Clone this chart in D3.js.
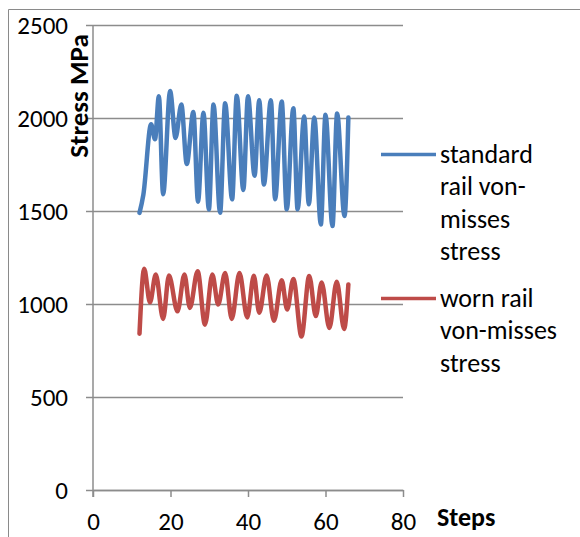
<!DOCTYPE html>
<html>
<head>
<meta charset="utf-8">
<script src="https://cdn.jsdelivr.net/npm/d3@7/dist/d3.min.js"></script>
<style>
  html, body { margin: 0; padding: 0; background: #fff; }
  svg { display: block; }
  text { font-family: Carlito, Calibri, Lato, "Open Sans", sans-serif; fill: #000; }
</style>
</head>
<body>
<div id="chart"></div>
<script>
// ---- data ----
const seriesNames = ["standard rail von-misses stress", "worn rail von-misses stress"];
const legendLines = [["standard", "rail von-", "misses", "stress"], ["worn rail", "von-misses", "stress"]];
const xTicks = [0, 20, 40, 60, 80];
const yTicks = [0, 500, 1000, 1500, 2000, 2500];

const stdSteps = [12, 13, 15, 16, 17, 18.1, 19.9, 21.3, 22.8, 24.2, 25.9, 27.1, 28.5, 29.9, 31.1, 32.8, 34.1, 35.9, 37.1, 38.8, 40, 41.7, 42.9, 44.1, 45.9, 47, 48.7, 50, 51.7, 52.8, 54.5, 55.7, 57.1, 58.8, 60, 61.8, 63, 64.9, 65.9];
const stdValues = [1490, 1588, 1966, 1886, 2117, 1590, 2145, 1893, 2072, 1753, 2032, 1550, 2028, 1508, 2072, 1491, 2079, 1563, 2120, 1613, 2117, 1690, 2095, 1642, 2096, 1563, 2089, 1509, 2053, 1509, 2008, 1536, 2003, 1428, 2017, 1419, 2024, 1473, 2003];

const wornSteps = [12, 13.2, 14.7, 16.2, 18.1, 19.6, 21.8, 23.6, 25, 27, 28.9, 30.8, 32.3, 34.1, 35.8, 37.8, 39.8, 41.5, 42.9, 44.8, 46.7, 48.7, 50.1, 51.7, 53.8, 55.8, 57.5, 59, 61, 62.9, 64.8, 65.9];
const wornValues = [840, 1189, 1009, 1158, 920, 1153, 961, 1158, 979, 1176, 889, 1158, 997, 1167, 920, 1166, 928, 1152, 953, 1153, 910, 1128, 970, 1135, 825, 1151, 935, 1116, 871, 1120, 866, 1105];

const colors = ["#4a7ebb", "#be4b48"];

// ---- layout ----
const W = 580, H = 537;
const plot = { left: 93, top: 25, right: 403, bottom: 490 };
const svg = d3.select("#chart").append("svg").attr("width", W).attr("height", H);

// outer frame
svg.append("path").attr("d", `M8.5,${H} L8.5,9.5 L${W},9.5`)
  .attr("fill", "none").attr("stroke", "#8a8a8a").attr("stroke-width", 1);

const x = d3.scaleLinear().domain([0, 80]).range([plot.left, plot.right]);
const y = d3.scaleLinear().domain([0, 2500]).range([plot.bottom, plot.top]);

const gridColor = "#8c8c8c";

// gridlines
const grid = svg.append("g").attr("transform", `translate(${plot.left},0)`)
  .call(d3.axisLeft(y).tickValues(yTicks).tickSize(-(plot.right - plot.left)).tickFormat(""));
grid.select(".domain").remove();
grid.selectAll("line").attr("stroke", gridColor).attr("stroke-width", 1.5);

// y axis
const yAxis = svg.append("g").attr("transform", `translate(${plot.left},0)`)
  .call(d3.axisLeft(y).tickValues(yTicks).tickSize(7).tickSizeOuter(0).tickPadding(18).tickFormat(d3.format("d")));
yAxis.select(".domain").attr("stroke", gridColor).attr("stroke-width", 1.5)
  .attr("d", `M0,${plot.top}V${plot.bottom + 7}`);
yAxis.selectAll("line").attr("stroke", gridColor).attr("stroke-width", 1.5);
yAxis.selectAll("text").style("font-size", "25px").attr("dy", "0.34em");

// x axis
const xAxis = svg.append("g").attr("transform", `translate(0,${plot.bottom})`)
  .call(d3.axisBottom(x).tickValues(xTicks).tickSize(7).tickSizeOuter(0).tickPadding(10).tickFormat(d3.format("d")));
xAxis.select(".domain").attr("stroke", gridColor).attr("stroke-width", 1.5);
xAxis.selectAll("line").attr("stroke", gridColor).attr("stroke-width", 1.5);
xAxis.selectAll("text").style("font-size", "25px").attr("y", 40).attr("dy", 0);

// axis titles
svg.append("text").attr("transform", "translate(88,96) rotate(-90)")
  .attr("text-anchor", "middle").style("font-size", "27px").style("font-weight", "bold")
  .text("Stress MPa");
svg.append("text").attr("x", 437).attr("y", 526)
  .style("font-size", "26px").style("font-weight", "bold").text("Steps");

// lines
const line = d3.line().x(d => x(d[0])).y(d => y(d[1])).curve(d3.curveMonotoneX);
const series = [d3.zip(stdSteps, stdValues), d3.zip(wornSteps, wornValues)];
svg.selectAll("path.series").data(series).join("path")
  .attr("class", "series")
  .attr("d", line)
  .attr("fill", "none")
  .attr("stroke", (d, i) => colors[i])
  .attr("stroke-width", 4.5)
  .attr("stroke-linejoin", "round")
  .attr("stroke-linecap", "round");

// legend
const legendY = [154.5, 298.5];
const lg = svg.selectAll("g.legend").data(seriesNames).join("g").attr("class", "legend");
lg.append("line")
  .attr("x1", 381).attr("x2", 436)
  .attr("y1", (d, i) => legendY[i]).attr("y2", (d, i) => legendY[i])
  .attr("stroke", (d, i) => colors[i]).attr("stroke-width", 3.5);
lg.each(function (d, i) {
  const t = d3.select(this).append("text").attr("x", 440).attr("y", legendY[i] + 8)
    .style("font-size", "26px");
  legendLines[i].forEach((s, k) => {
    t.append("tspan").attr("x", 440).attr("dy", k === 0 ? 0 : 32.5).text(s);
  });
});
</script>
</body>
</html>
